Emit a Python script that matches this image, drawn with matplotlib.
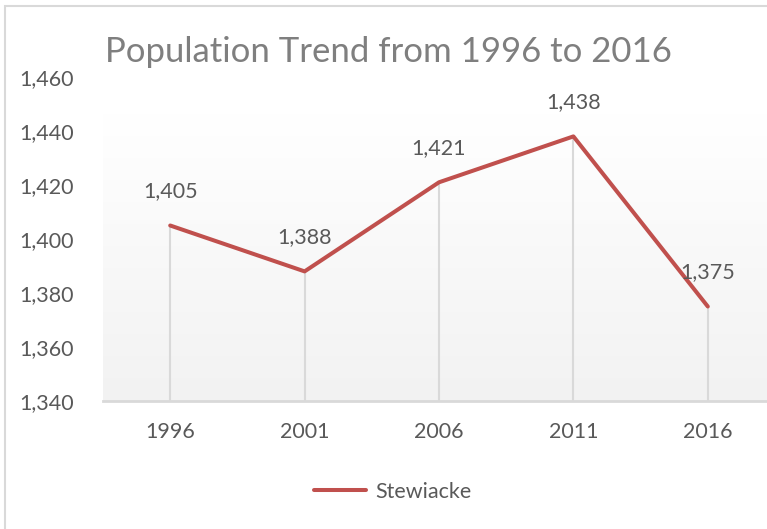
import matplotlib
matplotlib.use("Agg")
import matplotlib.pyplot as plt
import numpy as np
from matplotlib.patches import Rectangle
from matplotlib.lines import Line2D

years = ["1996", "2001", "2006", "2011", "2016"]
population = [1405, 1388, 1421, 1438, 1375]
yticks = [1340, 1360, 1380, 1400, 1420, 1440, 1460]
series_name = "Stewiacke"
title = "Population Trend from 1996 to 2016"

plt.rcParams['font.family'] = ['Lato', 'DejaVu Sans']

fig = plt.figure(figsize=(7.67, 5.29), dpi=100)
fig.patch.set_facecolor('white')

# figure border (left and top visible)
fig.add_artist(Rectangle((0.006, -0.05), 1.2, 1.05 - 0.011, transform=fig.transFigure,
                         fill=False, edgecolor='#d9d9d9', linewidth=1.5))

ax = fig.add_axes([103/767, 1 - 401/529, 672/767, 324/529])
ax.set_facecolor('none')
x = np.arange(len(years))
ax.set_xlim(-0.5, len(years) - 0.5)
ax.set_ylim(yticks[0], yticks[-1])

# gradient background
grad = np.linspace(1, 0, 256).reshape(-1, 1)
top_frac = (401 - 113) / (401 - 77)
ax.imshow(grad, cmap=matplotlib.colors.LinearSegmentedColormap.from_list('g', ['#f2f2f2', '#ffffff']),
          extent=[0, 1, 0, top_frac], transform=ax.transAxes, aspect='auto', zorder=0)

# drop lines
for xi, v in zip(x, population):
    ax.plot([xi, xi], [yticks[0], v], color='#d9d9d9', linewidth=1.5, zorder=1)

ax.plot(x, population, color='#c0504d', linewidth=2.9, solid_capstyle='round', zorder=3)

for xi, v in zip(x, population):
    ax.annotate(f"{v:,}", (xi, v), xytext=(0, 24.5), textcoords='offset points',
                ha='center', va='center', fontsize=15.5, color='#595959', zorder=4)

ax.set_xticks(x)
ax.set_xticklabels(years)
ax.set_yticks(yticks)
ax.set_yticklabels([f"{t:,}" for t in yticks])
ax.tick_params(axis='both', length=0, labelsize=15.5, labelcolor='#595959')
ax.tick_params(axis='x', pad=15)
ax.tick_params(axis='y', pad=21)
for s in ['top', 'right', 'left']:
    ax.spines[s].set_visible(False)
ax.spines['bottom'].set_color('#d9d9d9')
ax.spines['bottom'].set_linewidth(2)

fig.text(388/767, 1 - 52/529, title, ha='center', va='center', fontsize=25, color='#7f7f7f')

handle = Line2D([0], [0], color='#c0504d', linewidth=2.9, solid_capstyle='round')
fig.legend([handle], [series_name], loc='center', bbox_to_anchor=(393/767, 1 - 492/529),
           frameon=False, fontsize=15.5, labelcolor='#595959', handlelength=2.4, handletextpad=0.45)

fig.savefig('out.png', dpi=100, facecolor='white')
